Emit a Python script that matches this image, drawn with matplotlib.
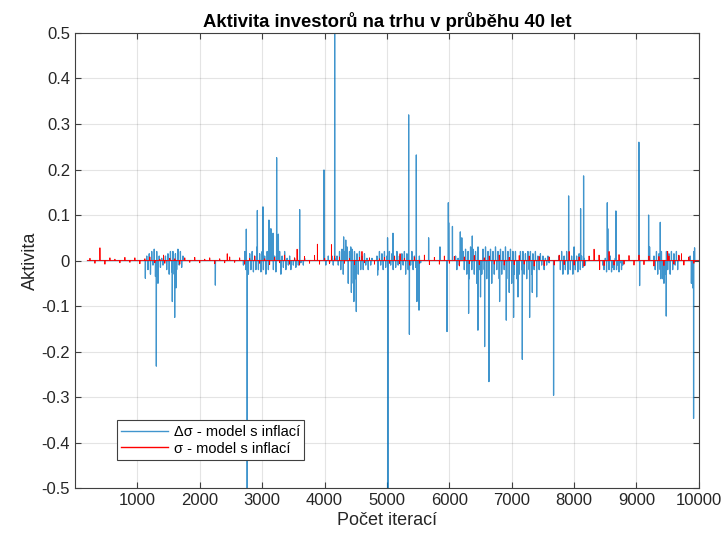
import numpy as np
import matplotlib.pyplot as plt

plt.rcParams['font.family'] = ['Liberation Sans', 'DejaVu Sans']
plt.rcParams['axes.unicode_minus'] = False

# iterations covered by the simulation
first_iter = 200
last_iter = 10000

# big spikes of the blue series (iteration, value)
blue_spike_x = [1128, 1304, 1330, 1560, 1598, 1620, 2250,
                2746, 2760, 2923, 3013, 3109, 3140, 3175, 3232, 3260, 3300, 3601,
                3991, 4162, 4306, 4340, 4380, 4420, 4430, 4470, 4509,
                4851, 5010, 5017, 5097, 5348, 5360, 5471, 5480, 5514,
                5668, 5850, 5963, 5984, 5990, 6050, 6176, 6200, 6309, 6368,
                6458, 6500, 6566, 6635, 6806, 6913, 6960, 7030, 7100, 7170,
                7287, 7330, 7400, 7671, 7912, 8000, 8104, 8152, 8532, 8540,
                8670, 9038, 9050, 9194, 9210, 9381, 9390, 9440, 9477, 9900,
                9915, 9931]
blue_spike_y = [-0.039, -0.232, -0.05, -0.09, -0.125, -0.06, -0.054,
                0.069, -0.6, 0.11, 0.118, 0.089, 0.07, 0.06, 0.226, 0.058, -0.03, 0.112,
                0.199, 0.6, 0.052, 0.045, -0.05, 0.03, -0.07, -0.09, -0.112,
                -0.032, 0.05, -0.6, 0.06, 0.32, -0.162, 0.232, -0.09, -0.109,
                0.05, 0.03, -0.156, 0.127, 0.083, 0.075, 0.063, 0.05, -0.116, 0.054,
                -0.153, -0.08, -0.189, -0.266, -0.09, -0.131, -0.07, -0.125, -0.08, -0.217,
                -0.125, -0.07, -0.08, -0.296, 0.142, 0.03, 0.114, 0.186, 0.127, 0.07,
                0.109, 0.26, -0.055, 0.1, 0.03, 0.084, -0.04, -0.05, -0.122, -0.06,
                -0.347, 0.028]

# dense small oscillations of the blue series, one value every 20 iterations
band_step = 20
band_starts = [1150, 2700, 4000, 4840, 6100, 7760, 8460, 9280, 9860]
band_a = [.01, -.02, .015, -.03, .02, -.01, .025, -.035, .02, -.02,
          .01, -.015, .005, -.01, .0, .01, -.02, .015, -.03, .02,
          -.025, .02, -.03, .015, -.02, .025, -.01, .02, -.015, .01]
band_b = [-.01, .02, -.02, .01, -.03, .015, -.02, .02, -.025, .01,
          -.02, .03, -.02, .015, -.025, .02, -.02, .01, -.03, .02,
          -.02, .025, -.015, .02, -.02, .01, -.025, .015, -.02, .02,
          -.02, .01, -.015, .02, -.02, .005, -.01, .01, -.02, .0,
          -.01, .005, -.015, .0, -.01, .01, -.005, .0, -.01, .005]
band_c = [.005, -.01, .0, .01, -.005, .0, .01, -.01, .005, .0,
          .01, -.01, .02, -.02, .025, -.03, .02, -.025, .03, -.04,
          .02, -.03, .025, -.05, .02, -.04, .015, -.03, .02, -.02,
          .01, -.02, .015, -.01, .005, -.02, .0, -.01, .005, .0]
band_d = [.01, -.02, .02, -.01, .015, -.02, .02, -.015, .01, -.02,
          .02, -.01, .015, -.02, .01, -.015, .02, -.01, .01, -.02,
          .015, -.01, .02, -.03, .015, -.02, .01, -.01, .02, -.02,
          .01, -.015, .005, -.01, .01, -.005]
band_e = [.01, -.02, .005, -.01, .02, -.03, .02, -.02, .025, -.03,
          .02, -.04, .03, -.02, .025, -.03, .02, -.05, .03, -.02,
          .02, -.03, .025, -.02, .03, -.04, .02, -.03, .025, -.05,
          .02, -.03, .03, -.02, .02, -.04, .025, -.03, .02, -.02,
          .03, -.04, .02, -.03, .025, -.05, .02, -.03, .02, -.04,
          .025, -.03, .02, -.02, .02, -.03, .015, -.04, .02, -.02,
          .02, -.03, .015, -.02, .02, -.01, .01, -.02, .015, -.01,
          .01, -.02, .005, -.01, .01, -.005]
band_f = [.01, -.02, .02, -.03, .01, -.02, .02, -.03, .015, -.02,
          .01, -.03, .02, -.02, .01, -.025, .015, -.02, .01, -.015, .005, -.01]
band_g = [-.01, -.02, .005, -.025, -.01, -.02, .01, -.025, -.015, -.02,
          .005, -.02, -.01, -.025, -.005, -.02, -.01]
band_h = [.01, -.02, .02, -.03, .015, -.02, .02, -.04, .015, -.03,
          .02, -.02, .015, -.03, .02, -.02, .015, -.01, .02, -.02, .01]
band_i = [.01, -.05, -.08, .02]
blue_bands = [band_a, band_b, band_c, band_d, band_e, band_f, band_g, band_h, band_i]

# red series: small wiggle every 80 iterations plus a few larger bumps
red_start = 240
red_step = 80
red_noise = [.005, -.006, .004, -.008, .006, .003, -.005, .007, -.004, .006,
             -.007, .004, .008, -.005, .003, -.006, .005, .004, -.008, .006,
             -.004, .007, -.005, .003, .006, -.007, .004, -.005, .008, -.004,
             .006, -.008, .005, .01, -.006, .004, -.009, .007, -.005, .012,
             -.008, .006, -.01, .009, -.006, .011, -.008, .005, -.007, .01,
             .008, -.006, .005, -.009, .007, -.005, .006, -.008, .004, .007,
             -.006, .009, -.007, .005, -.01, .008, -.006, .012, -.009, .007,
             -.008, .01, -.006, .009, -.012, .008, -.007, .011, -.009, .006,
             .01, -.008, .012, -.01, .007, -.009, .011, -.008, .01, -.012,
             .009, -.011, .008, -.01, .012, -.009, .011, -.01, .008, -.012,
             .01, -.009, .012, -.011, .009, -.01, .013, -.008, .011, -.01,
             .012, -.009, .01, -.012, .009, -.011, .01, -.008, .012, -.01,
             .008, -.006]
red_spike_x = [400, 1420, 2440, 3560, 3885, 4110, 4600, 5210, 7920, 8320, 8410, 8560, 9500, 9720]
red_spike_y = [.028, .012, .015, .025, .036, .035, .02, .015, .02, .025, -.02, .02, .02, .015]

# build the series on the iteration grid (zero where nothing happens)
iters = np.arange(first_iter, last_iter + 1)
blue = np.zeros(len(iters))
red = np.zeros(len(iters))

for start, vals in zip(band_starts, blue_bands):
    for i, v in enumerate(vals):
        blue[start + i * band_step - first_iter] = v
for x, v in zip(blue_spike_x, blue_spike_y):
    blue[x - first_iter] = v

for i, v in enumerate(red_noise):
    red[red_start + i * red_step - first_iter] = v
for x, v in zip(red_spike_x, red_spike_y):
    red[x - first_iter] = v

fig = plt.figure(figsize=(7.28, 5.4), dpi=100)
ax = fig.add_axes([0.103, 0.096, 0.857, 0.843])

ax.plot(iters, blue, color='#0072BD', lw=0.9, alpha=0.75, label='Δσ - model s inflací')
ax.plot(iters, red, color='#FF0000', lw=0.6, label='σ - model s inflací')

ax.set_xlim(0, 10000)
ax.set_ylim(-0.5, 0.5)
ax.set_xticks(range(1000, 10001, 1000))
yt = np.round(np.arange(-0.5, 0.51, 0.1), 1)
ax.set_yticks(yt)
ax.set_yticklabels(['0' if abs(v) < 1e-9 else f'{v:g}' for v in yt])

ax.grid(True, color='0.15', alpha=0.12, lw=0.8)
ax.tick_params(direction='in', top=True, right=True, length=4, labelsize=12,
               color='0.25', labelcolor='0.15')
for s in ax.spines.values():
    s.set_color('0.25')
    s.set_linewidth(0.8)

ax.set_title('Aktivita investorů na trhu v průběhu 40 let', fontsize=13.3,
             fontweight='bold', pad=4)
ax.set_xlabel('Počet iterací', fontsize=13, color='0.15', labelpad=3)
ax.set_ylabel('Aktivita', fontsize=13, color='0.15', labelpad=2)

leg = ax.legend(loc='lower left', bbox_to_anchor=(0.067, 0.062), borderaxespad=0,
                fancybox=False, edgecolor='0.25', framealpha=1, fontsize=10.5,
                handlelength=3.2, borderpad=0.3, labelspacing=0.2, handletextpad=0.4)
leg.get_frame().set_linewidth(0.8)
for h in leg.get_lines():
    h.set_linewidth(1.0)

fig.savefig('out.png', dpi=100, facecolor='white')
